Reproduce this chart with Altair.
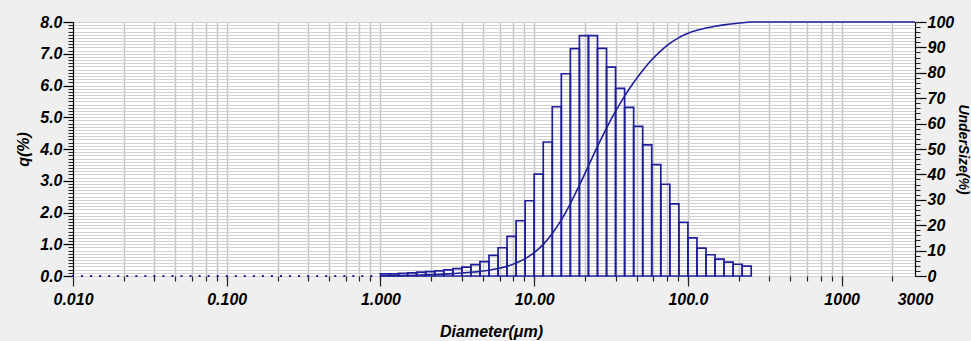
import altair as alt
import numpy as np
import pandas as pd

# Size classes: 17 geometric classes per decade, starting at 0.010 µm
CLASSES_PER_DECADE = 17
FIRST_EDGE = 0.01

# Frequency q(%) per class (classes below 1 µm are empty)
q_below_1 = [0.0] * 34
q_1_to_10 = [0.07, 0.07, 0.08, 0.10, 0.12, 0.14, 0.16, 0.19, 0.23, 0.28,
             0.36, 0.45, 0.65, 0.89, 1.25, 1.74, 2.37]
q_10_to_100 = [3.21, 4.22, 5.33, 6.37, 7.16, 7.57, 7.57, 7.17, 6.58, 5.91,
               5.31, 4.71, 4.13, 3.51, 2.89, 2.27, 1.69]
q_above_100 = [1.20, 0.88, 0.67, 0.53, 0.44, 0.37, 0.31]

# Axis ticks and labels
x_major = [0.01, 0.1, 1, 10, 100, 1000, 3000]
x_major_labels = ["0.010", "0.100", "1.000", "10.00", "100.0", "1000", "3000"]
x_minor_steps = [2.14, 3.38, 4.63, 5.96, 7.3, 8.6]
x_decades = [0.01, 0.1, 1, 10, 100, 1000]
x_max = 3000

q_major = [0, 1, 2, 3, 4, 5, 6, 7, 8]
undersize_major = [0, 10, 20, 30, 40, 50, 60, 70, 80, 90, 100]

NAVY = "#1f1f99"
FONT = "Liberation Sans"

# ---- class table -------------------------------------------------------
q_all = q_below_1 + q_1_to_10 + q_10_to_100 + q_above_100
k = np.arange(len(q_all))
lo = FIRST_EDGE * 10 ** (k / CLASSES_PER_DECADE)
hi = FIRST_EDGE * 10 ** ((k + 1) / CLASSES_PER_DECADE)
classes = pd.DataFrame({"lo": lo, "hi": hi, "q": q_all, "base": 0.0})

bars_df = classes[classes["q"] > 0].reset_index(drop=True)
empty_df = classes[classes["q"] == 0].reset_index(drop=True)

# cumulative undersize at each upper class edge
total = bars_df["q"].sum()
cum = bars_df["q"].cumsum() / total * 100
cum_df = pd.concat([
    pd.DataFrame({"d": [bars_df["lo"].iloc[0]], "u": [0.0]}),
    pd.DataFrame({"d": bars_df["hi"], "u": cum}),
    pd.DataFrame({"d": [x_max], "u": [100.0]}),
], ignore_index=True)

# ---- tick value lists ----------------------------------------------------
x_minor = [round(m * d, 6) for d in x_decades for m in x_minor_steps if m * d < x_max]
x_grid = sorted(set(x_minor + [v for v in x_major if 0.01 < v < x_max]))
q_minor = [round(v, 1) for v in np.arange(0, 8.0001, 0.1)]
undersize_minor = list(range(0, 101, 2))

label_expr = "''"
for v, t in reversed(list(zip(x_major, x_major_labels))):
    label_expr = f"datum.value == {v} ? '{t}' : ({label_expr})"

label_style = dict(labelFont=FONT, labelFontSize=16, labelFontWeight="bold",
                   labelFontStyle="italic", labelColor="black")
title_style = dict(titleFont=FONT, titleFontSize=16, titleFontWeight="bold",
                   titleFontStyle="italic", titleColor="black")

x_scale = alt.Scale(type="log", domain=[0.01, x_max], nice=False)
q_scale = alt.Scale(domain=[0, 8], nice=False, zero=True)
u_scale = alt.Scale(domain=[0, 100], nice=False, zero=True)

x_axis_major = alt.Axis(
    values=x_major, labelExpr=label_expr, orient="bottom", grid=False,
    domain=False, tickSize=10, tickColor="#222", tickWidth=1.2,
    tickOpacity={"condition": {"test": f"datum.value == {x_max}", "value": 0}, "value": 1},
    labelPadding=18, labelBaseline="alphabetic", labelFlush=False,
    labelOverlap=False, labelBound=False,
    title="Diameter(μm)", titleX=418, titleY=60, titleAlign="center",
    titleBaseline="alphabetic", **label_style, **title_style)

x_axis_minor = alt.Axis(
    values=x_grid, orient="bottom", labels=False, title=None, domain=False,
    tickSize=5, tickColor="#222", tickWidth=1.2,
    grid=True, gridColor="#c2c2c2", gridWidth=1.5)

y_axis_major = alt.Axis(
    values=q_major, format=".1f", orient="left", grid=False,
    domain=True, domainColor="black", domainWidth=1.2,
    tickSize=10, tickColor="black", tickWidth=1.2, labelPadding=1,
    title="q(%)", titleAngle=270, titleX=-50, titleY=127,
    titleAlign="center", titleBaseline="middle", **label_style, **title_style)

y_axis_minor = alt.Axis(
    values=q_minor, orient="left", labels=False, title=None, domain=False,
    tickSize=5, tickColor="#222", tickWidth=1,
    grid=True, gridColor="#d2d2d2", gridWidth=1)

u_axis_major = alt.Axis(
    values=undersize_major, format="d", orient="right", grid=False,
    domain=True, domainColor="black", domainWidth=1.2,
    tickSize=11, tickColor="black", tickWidth=1.2, labelPadding=1,
    title="UnderSize(%)", titleAngle=90, titleX=47, titleY=127,
    titleAlign="center", titleBaseline="middle",
    **label_style, **{**title_style, "titleFontSize": 14})

u_axis_minor = alt.Axis(
    values=undersize_minor, orient="right", labels=False, title=None,
    domain=False, tickSize=5, tickColor="#222", tickWidth=1, grid=False)

# empty classes shown as dots on the baseline; carries the minor x / q axes
empty = alt.Chart(empty_df).mark_square(size=4, color=NAVY, opacity=1).encode(
    x=alt.X("lo:Q", scale=x_scale, axis=x_axis_minor),
    y=alt.Y("q:Q", scale=q_scale, axis=y_axis_minor),
)

bars = alt.Chart(bars_df).mark_rect(fillOpacity=0, stroke=NAVY, strokeWidth=1.7).encode(
    x=alt.X("lo:Q", scale=x_scale, axis=x_axis_major),
    x2="hi:Q",
    y=alt.Y("q:Q", scale=q_scale, axis=y_axis_major),
    y2="base:Q",
)

curve = alt.Chart(cum_df).mark_line(color=NAVY, strokeWidth=1.6, interpolate="monotone").encode(
    x=alt.X("d:Q", scale=x_scale, axis=None),
    y=alt.Y("u:Q", scale=u_scale, axis=u_axis_major),
)

curve_minor = alt.Chart(cum_df).mark_line(opacity=0).encode(
    x=alt.X("d:Q", scale=x_scale, axis=None),
    y=alt.Y("u:Q", scale=u_scale, axis=u_axis_minor),
)

chart = (
    alt.layer(empty, bars, curve, curve_minor)
    .resolve_scale(y="independent")
    .resolve_axis(x="independent", y="independent")
    .properties(
        width=842, height=254,
        autosize=alt.AutoSizeParams(type="none"),
        padding={"left": 73, "top": 22, "right": 56, "bottom": 65},
        background="#efefef",
    )
    .configure_view(fill="white", stroke=None)
)

chart.save("out.html", embed_options={"renderer": "svg", "actions": False})
